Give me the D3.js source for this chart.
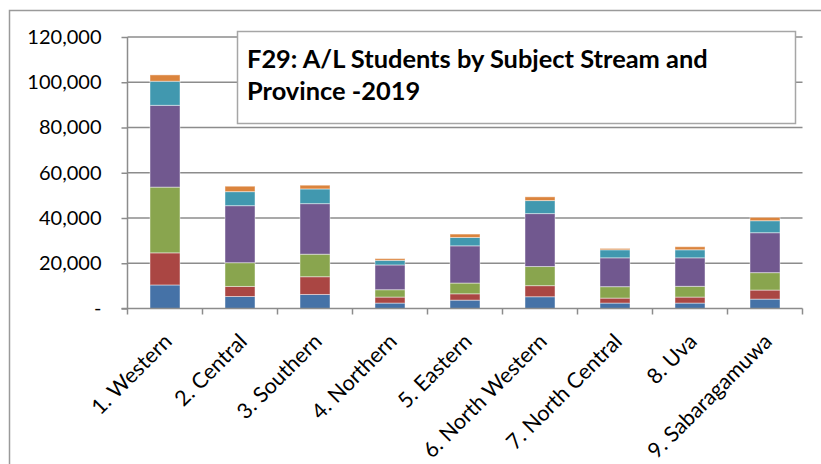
<!DOCTYPE html>
<html>
<head>
<meta charset="utf-8">
<script src="https://cdn.jsdelivr.net/npm/d3@7"></script>
<style>
  html, body { margin: 0; padding: 0; background: #fff; }
  svg { display: block; }
  text { font-family: Lato, "Open Sans", sans-serif; fill: #000; }
</style>
</head>
<body>
<svg id="chart" width="821" height="464"></svg>
<script>
// ---- Data ----
const provinces = ["1. Western", "2. Central", "3. Southern", "4. Northern", "5. Eastern",
                   "6. North Western", "7. North Central", "8. Uva", "9. Sabaragamuwa"];
const streams = ["Bio Science", "Physical Science", "Commerce", "Arts", "Technology", "Other"];
const bioScience      = [10400, 5300, 6200, 2400, 3700, 5200, 2400, 2400, 4150];
const physicalScience = [14200, 4450, 7850, 2650, 2800, 4900, 2200, 2650, 4000];
const commerce        = [29050, 10500, 9950, 3250, 4750, 8450, 5050, 4750, 7700];
const arts            = [36150, 25200, 22350, 10950, 16450, 23400, 12750, 12600, 17650];
const technology      = [10650, 6200, 6500, 2050, 3700, 5750, 3550, 3550, 5300];
const other           = [2800, 2400, 1650, 750, 1500, 1650, 600, 1350, 1500];
const yTicks = [0, 20000, 40000, 60000, 80000, 100000, 120000];
const titleLines = ["F29: A/L Students by Subject Stream and", "Province -2019"];
const colors = ["#4572A7", "#AA4643", "#89A54E", "#71588F", "#4198AF", "#DB843D"];

const seriesValues = [bioScience, physicalScience, commerce, arts, technology, other];
const rows = provinces.map((p, i) => {
  const r = { province: p };
  streams.forEach((s, k) => r[s] = seriesValues[k][i]);
  return r;
});

const svg = d3.select("#chart");
const W = 821, H = 464;
const plot = { left: 127.5, right: 802.5, top: 37, bottom: 308.5 };
const gridColor = "#8c8c8c";

// outer chart frame (extends past the right/bottom edges like the reference)
svg.append("path")
  .attr("d", `M9.5,${H + 2} L9.5,10.5 L${W + 2},10.5`)
  .attr("fill", "none").attr("stroke", "#9a9a9a").attr("stroke-width", 1.5);

const x = d3.scaleBand().domain(provinces).range([plot.left, plot.right]).paddingInner(0.6).paddingOuter(0.3);
const y = d3.scaleLinear().domain([0, 120000]).range([plot.bottom, plot.top]);

// gridlines
svg.append("g").selectAll("line").data(yTicks.filter(d => d > 0)).join("line")
  .attr("x1", plot.left).attr("x2", plot.right)
  .attr("y1", d => y(d)).attr("y2", d => y(d))
  .attr("stroke", gridColor).attr("stroke-width", 1.5);

// stacked bars
const stack = d3.stack().keys(streams)(rows);
svg.append("g").selectAll("g").data(stack).join("g")
  .attr("fill", (d, i) => colors[i])
  .selectAll("rect").data(d => d).join("rect")
  .attr("x", d => x(d.data.province))
  .attr("width", x.bandwidth())
  .attr("y", d => y(d[1]))
  .attr("height", d => y(d[0]) - y(d[1]))
  .attr("stroke", "rgba(255,255,255,0.45)").attr("stroke-width", 1);

// y axis
const yAxis = d3.axisLeft(y).tickValues(yTicks).tickSize(6).tickPadding(20)
  .tickFormat(d => d === 0 ? "-" : d3.format(",")(d));
const gy = svg.append("g").attr("transform", `translate(${plot.left},0)`).call(yAxis);
gy.select(".domain").attr("stroke", gridColor).attr("stroke-width", 1.5)
  .attr("d", `M0,${plot.top}V${plot.bottom}`);
gy.selectAll(".tick line").attr("stroke", gridColor).attr("stroke-width", 1.5);
gy.selectAll(".tick text").attr("font-size", 20).attr("font-family", "Lato, sans-serif").attr("fill", "#000");

// x axis line & category-boundary ticks
const gx = svg.append("g");
gx.append("line").attr("x1", plot.left - 6).attr("x2", plot.right)
  .attr("y1", plot.bottom).attr("y2", plot.bottom)
  .attr("stroke", gridColor).attr("stroke-width", 1.5);
const step = x.step();
const boundaries = d3.range(provinces.length + 1).map(i => plot.left + i * step);
gx.selectAll("line.b").data(boundaries).join("line").attr("class", "b")
  .attr("x1", d => d).attr("x2", d => d)
  .attr("y1", plot.bottom).attr("y2", plot.bottom + 6)
  .attr("stroke", gridColor).attr("stroke-width", 1.5);

// rotated category labels
gx.selectAll("text").data(provinces).join("text")
  .attr("transform", d => `translate(${x(d) + x.bandwidth() / 2 + 3},${plot.bottom + 29}) rotate(-45)`)
  .attr("text-anchor", "end").attr("dy", "0.35em")
  .attr("font-size", 21.5)
  .text(d => d);

// title box
const tb = { x: 237.5, y: 31.5, w: 558, h: 92 };
svg.append("rect").attr("x", tb.x).attr("y", tb.y).attr("width", tb.w).attr("height", tb.h)
  .attr("fill", "#fff").attr("stroke", "#a6a6a6").attr("stroke-width", 1.5);
const tt = svg.append("text").attr("font-weight", "bold").attr("font-size", 21);
tt.selectAll("tspan").data(titleLines).join("tspan")
  .attr("x", 247).attr("y", (d, i) => 68 + i * 32).text(d => d);
// fit title size so the first line spans the same width as in the reference
const first = tt.select("tspan").node();
const len = first.getComputedTextLength();
tt.attr("font-size", 21 * 461 / len);
</script>
</body>
</html>
